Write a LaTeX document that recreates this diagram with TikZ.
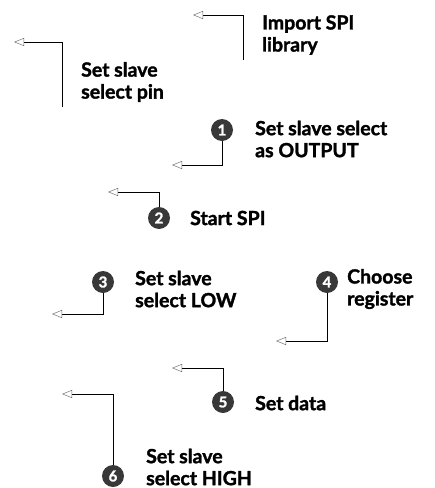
\documentclass[tikz,border=0pt]{standalone}
\usepackage{fontspec}
\setmainfont{Lato}[BoldFeatures={FakeBold=1.6}]
\usetikzlibrary{arrows.meta}
\begin{document}
\begin{tikzpicture}[x=1pt,y=-1pt,
  lbl/.style={anchor=west,align=left,inner sep=0pt,font=\fontsize{19.5}{22}\selectfont\bfseries},
  num/.style={circle,fill=black!78,text=white,minimum size=22pt,inner sep=0pt,font=\fontsize{15}{15}\selectfont\bfseries},
  ptr/.style={line width=1pt,-{Triangle[length=10pt,width=8pt,line width=0.5pt,color=black!55,fill=white]}}]
\useasboundingbox (0,0) rectangle (435,488);
% labels
\node[lbl] (t0) at (262,35) {Import SPI\\library};
\node[lbl] (tp) at (81,82) {Set slave\\select pin};
\node[lbl] (t1) at (255,139) {Set slave select\\as OUTPUT};
\node[lbl] (t2) at (190,218) {Start SPI};
\node[lbl] (t3) at (135,289) {Set slave\\select LOW};
\node[lbl] (t4) at (347,289) {Choose\\register};
\node[lbl] (t5) at (255,403) {Set data};
\node[lbl] (t6) at (146,467) {Set slave\\select HIGH};
% numbers
\node[num] (n1) at (222,130) {1};
\node[num] (n2) at (159,218) {2};
\node[num] (n3) at (103,282) {3};
\node[num] (n4) at (327,282) {4};
\node[num] (n5) at (223,402) {5};
\node[num] (n6) at (113,476) {6};
% free ends
\coordinate (s0) at (243,60);  \coordinate (e0) at (193,15);
\coordinate (sp) at (62,107);  \coordinate (ep) at (14,42);
\coordinate (e1) at (172,165);
\coordinate (e2) at (108,192);
\coordinate (e3) at (52,314);
\coordinate (e4) at (276,341);
\coordinate (e5) at (172,368);
\coordinate (e6) at (62,394);
% connectors
\draw[ptr] (s0) |- (e0);
\draw[ptr] (sp) |- (ep);
\draw[ptr] (n1.south) |- (e1);
\draw[ptr] (n2.north) |- (e2);
\draw[ptr] (n3.south) |- (e3);
\draw[ptr] (n4.south) |- (e4);
\draw[ptr] (n5.north) |- (e5);
\draw[ptr] (n6.north) |- (e6);
\end{tikzpicture}
\end{document}
